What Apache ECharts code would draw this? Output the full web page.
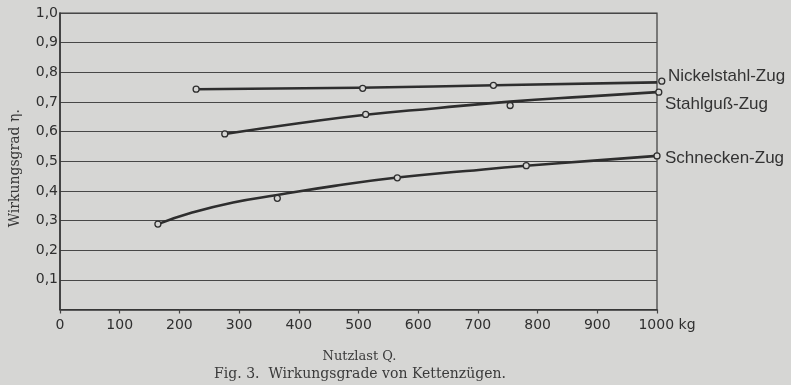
<!DOCTYPE html>
<html>
<head>
<meta charset="utf-8">
<script src="https://cdn.jsdelivr.net/npm/echarts@6/dist/echarts.min.js"></script>
<style>
html,body{margin:0;padding:0;background:#d6d6d4;}
#c{width:791px;height:385px;}
</style>
</head>
<body>
<div id="c"></div>
<script>
// X ticks (kg) and Y ticks (efficiency)
const xTicks = [0, 100, 200, 300, 400, 500, 600, 700, 800, 900, 1000];
const yTicks = [0, 0.1, 0.2, 0.3, 0.4, 0.5, 0.6, 0.7, 0.8, 0.9, 1.0];

const seriesNames = ['Nickelstahl-Zug', 'Stahlguß-Zug', 'Schnecken-Zug'];

// Drawn curves [load kg, efficiency]
const nickelCurve = [[228, 0.743], [500, 0.748], [750, 0.757], [1000, 0.766]];
const stahlCurve = [[276, 0.592], [400, 0.628], [512, 0.657], [630, 0.679], [754, 0.701], [880, 0.718], [1000, 0.733]];
const schneckenCurve = [[164, 0.288], [220, 0.326], [290, 0.361], [364, 0.386], [460, 0.417], [565, 0.445], [680, 0.467], [781, 0.485], [900, 0.503], [1000, 0.518]];

// Measured points (open circles)
const nickelPoints = [[228, 0.743], [507, 0.746], [726, 0.756], [1008, 0.770]];
const stahlPoints = [[276, 0.592], [512, 0.658], [754, 0.688], [1003, 0.733]];
const schneckenPoints = [[164, 0.288], [364, 0.375], [565, 0.444], [781, 0.485], [1000, 0.518]];

const bg = '#d6d6d4';
const ink = '#2e2e2e';
const labelFont = "'Liberation Sans', Arial, sans-serif";
const serif = "'DejaVu Serif', 'Liberation Serif', serif";
const tickFont = "'DejaVu Sans', sans-serif";

function curve(name, data, offset) {
  return {
    type: 'line', name: name, data: data, smooth: 0.5,
    symbol: 'none', lineStyle: {color: ink, width: 2.6}, z: 3,
    endLabel: {show: true, formatter: name, distance: 0, offset: offset,
      fontFamily: labelFont, fontSize: 17, color: '#333', align: 'left', verticalAlign: 'middle'}
  };
}
function pts(data) {
  return {
    type: 'scatter', data: data, symbol: 'circle', symbolSize: 6, clip: false, z: 5,
    itemStyle: {color: bg, borderColor: ink, borderWidth: 1.3, opacity: 1}
  };
}

const chart = echarts.init(document.getElementById('c'), null, {renderer: 'canvas'});
chart.setOption({
  backgroundColor: bg,
  animation: false,
  grid: {left: 59, right: 134, top: 13, bottom: 75.5, show: true, borderColor: '#3a3a3a', borderWidth: 1.2, backgroundColor: 'transparent'},
  xAxis: {
    type: 'value', min: xTicks[0], max: xTicks[xTicks.length - 1], interval: 100,
    axisLine: {show: true, lineStyle: {color: '#333', width: 1.5}},
    axisTick: {show: true, length: 4, inside: false, lineStyle: {color: '#444', width: 1.2}},
    splitLine: {show: false},
    axisLabel: {
      margin: 9, fontFamily: tickFont, fontSize: 14, color: '#2f2f2f',
      formatter: function (v) { return v === 1000 ? '{pad|}1000{kg| kg}' : String(v); },
      rich: {pad: {width: 20}, kg: {fontFamily: tickFont, fontSize: 14, color: '#2f2f2f'}}
    },
    name: 'Nutzlast Q.', nameLocation: 'middle', nameGap: 41,
    nameTextStyle: {fontFamily: serif, fontSize: 13, color: '#3a3a3a', padding: [0, 0, 0, 2]}
  },
  yAxis: {
    type: 'value', min: yTicks[0], max: yTicks[yTicks.length - 1], interval: 0.1,
    axisLine: {show: true, lineStyle: {color: '#333', width: 1.5}},
    axisTick: {show: false},
    splitLine: {show: true, lineStyle: {color: '#474747', width: 1.2}},
    axisLabel: {
      margin: 2, fontFamily: tickFont, fontSize: 14, color: '#2f2f2f',
      formatter: function (v) { return v === 0 ? '' : v.toFixed(1).replace('.', ','); }
    },
    name: 'Wirkungsgrad η.', nameLocation: 'middle', nameGap: 38, nameRotate: 90,
    nameTextStyle: {fontFamily: serif, fontSize: 14, color: '#3a3a3a', padding: [0, 14, 0, 0]}
  },
  title: {
    text: 'Fig. 3.  Wirkungsgrade von Kettenzügen.', left: 355, top: 362, textAlign: 'center',
    textStyle: {fontFamily: serif, fontSize: 14, fontWeight: 'normal', color: '#3a3a3a'}
  },
  series: [
    curve(seriesNames[0], nickelCurve, [11, -6]),
    curve(seriesNames[1], stahlCurve, [8, 12]),
    curve(seriesNames[2], schneckenCurve, [8, 2]),
    pts(nickelPoints), pts(stahlPoints), pts(schneckenPoints)
  ]
});
</script>
</body>
</html>
